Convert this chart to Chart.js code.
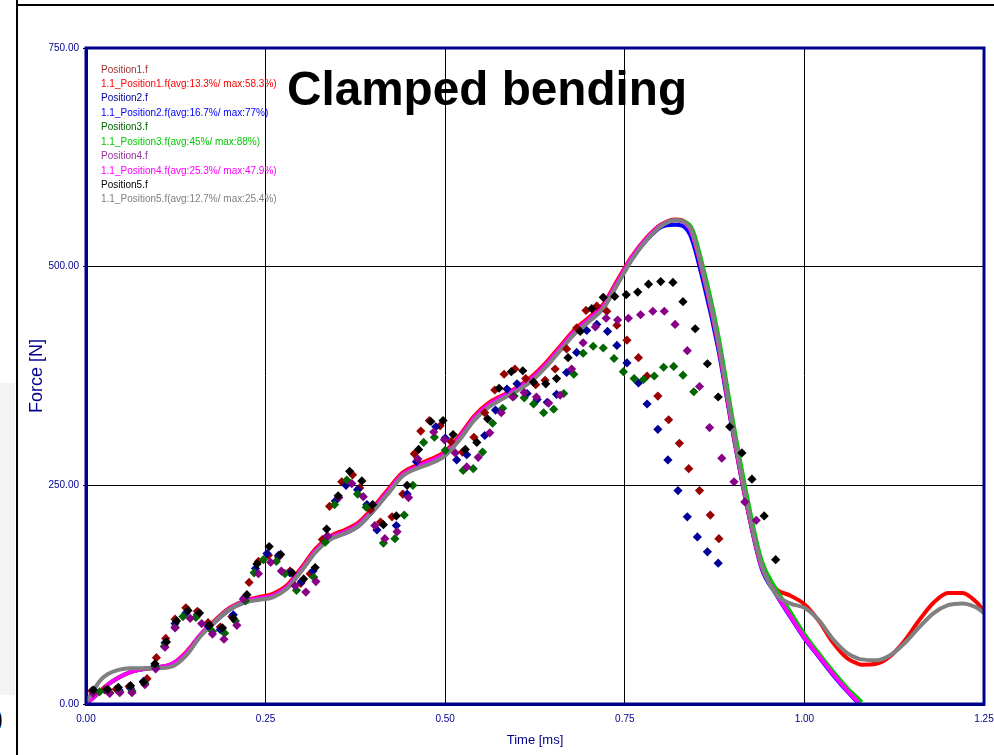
<!DOCTYPE html>
<html>
<head>
<meta charset="utf-8">
<script src="https://cdn.jsdelivr.net/npm/chart.js@4.4.0/dist/chart.umd.min.js"></script>
<style>
html,body{margin:0;padding:0;background:#fff;width:994px;height:755px;overflow:hidden;position:relative;font-family:"Liberation Sans",Arial,sans-serif}
#c{position:absolute;left:0;top:0}
#frameTop{position:absolute;left:17px;top:4px;width:977px;height:2px;background:#000}
#frameLeft{position:absolute;left:16px;top:0;width:2px;height:755px;background:#000}
#band{position:absolute;left:0;top:383px;width:15px;height:312px;background:#f3f3f3}
#zero{position:absolute;left:-16px;top:700px;font:bold 34px "Liberation Sans",Arial,sans-serif;color:#000;line-height:40px}
#title{position:absolute;left:287px;top:65px;font:bold 47.7px "Liberation Sans",Arial,sans-serif;line-height:47px;color:#000;white-space:nowrap}
#legend{position:absolute;left:101px;top:62.5px;font:10px "Liberation Sans",Arial,sans-serif;line-height:14.44px;white-space:nowrap}
</style>
</head>
<body>
<div id="band"></div>
<div id="zero">0</div>
<canvas id="c" width="994" height="755"></canvas>
<div id="frameTop"></div>
<div id="frameLeft"></div>
<div id="title"></div>
<div id="legend"></div>
<script>
// ---------- tick labels ----------
const xTickLabels = ['0.00', '0.25', '0.50', '0.75', '1.00', '1.25'];
const yTickLabels = ['0.00', '250.00', '500.00', '750.00'];
const chartTitle = 'Clamped bending';
const xTitle = 'Time [ms]';
const yTitle = 'Force [N]';

// ---------- legend entries ----------
const legendLabels = [
  'Position1.f', '1.1_Position1.f(avg:13.3%/ max:58.3%)',
  'Position2.f', '1.1_Position2.f(avg:16.7%/ max:77%)',
  'Position3.f', '1.1_Position3.f(avg:45%/ max:88%)',
  'Position4.f', '1.1_Position4.f(avg:25.3%/ max:47.9%)',
  'Position5.f', '1.1_Position5.f(avg:12.7%/ max:25.4%)'
];

// ---------- measured (diamonds): [time ms, force N] ----------
const pos1Meas = [[0.008,15],[0.026,16],[0.042,17],[0.060,20],[0.085,29],[0.098,53],[0.111,75],[0.124,97],[0.139,110],[0.155,106],[0.170,93],[0.187,88],[0.203,100],[0.227,139],[0.240,163],[0.254,170],[0.268,168],[0.284,152],[0.299,138],[0.312,149],[0.329,188],[0.339,226],[0.356,254],[0.371,262],[0.381,247],[0.396,222],[0.410,208],[0.426,214],[0.441,240],[0.457,286],[0.466,312],[0.478,324],[0.493,318],[0.508,300],[0.524,288],[0.540,305],[0.555,333],[0.569,359],[0.582,377],[0.597,383],[0.612,372],[0.626,365],[0.639,370],[0.653,383],[0.669,406],[0.683,430],[0.696,450],[0.711,455],[0.725,449],[0.739,433],[0.753,416],[0.769,396],[0.781,375],[0.796,352],[0.811,325],[0.826,298],[0.839,269],[0.854,244],[0.869,216],[0.881,189]];
const pos2Meas = [[0.012,15],[0.030,15],[0.046,16],[0.062,18],[0.080,26],[0.096,44],[0.110,70],[0.124,92],[0.139,104],[0.155,102],[0.170,89],[0.187,85],[0.205,102],[0.221,122],[0.236,155],[0.252,172],[0.268,170],[0.284,150],[0.300,140],[0.316,152],[0.336,192],[0.347,232],[0.362,250],[0.378,245],[0.391,228],[0.405,199],[0.432,204],[0.447,240],[0.460,277],[0.487,317],[0.500,304],[0.516,279],[0.530,285],[0.555,307],[0.570,336],[0.586,360],[0.600,366],[0.614,355],[0.628,348],[0.642,345],[0.655,354],[0.669,379],[0.683,402],[0.697,427],[0.711,434],[0.726,426],[0.739,410],[0.753,390],[0.769,367],[0.781,343],[0.796,314],[0.810,279],[0.824,244],[0.837,214],[0.851,191],[0.865,174],[0.880,161]];
const pos3Meas = [[0.019,14],[0.033,13],[0.047,14],[0.064,15],[0.082,24],[0.097,42],[0.109,66],[0.124,88],[0.135,100],[0.153,99],[0.176,83],[0.193,81],[0.208,95],[0.222,118],[0.234,150],[0.247,165],[0.265,163],[0.277,149],[0.293,130],[0.317,145],[0.333,185],[0.346,228],[0.363,256],[0.378,240],[0.390,225],[0.414,184],[0.430,189],[0.443,216],[0.455,250],[0.470,299],[0.485,305],[0.500,290],[0.525,267],[0.539,269],[0.552,288],[0.566,321],[0.580,338],[0.596,352],[0.610,350],[0.623,343],[0.637,333],[0.651,337],[0.665,355],[0.679,377],[0.692,401],[0.706,409],[0.720,407],[0.735,395],[0.748,380],[0.763,372],[0.776,371],[0.791,375],[0.804,385],[0.818,386],[0.831,376],[0.846,357]];
const pos4Meas = [[0.010,12],[0.033,12],[0.047,13],[0.064,13],[0.082,22],[0.097,40],[0.110,65],[0.124,87],[0.145,98],[0.161,92],[0.176,80],[0.192,74],[0.210,90],[0.219,120],[0.240,149],[0.257,162],[0.272,152],[0.291,135],[0.306,128],[0.320,140],[0.336,192],[0.352,236],[0.370,252],[0.386,237],[0.402,204],[0.416,189],[0.433,197],[0.449,236],[0.462,280],[0.484,311],[0.499,302],[0.514,287],[0.530,271],[0.546,282],[0.562,310],[0.578,333],[0.594,351],[0.610,356],[0.627,351],[0.644,344],[0.660,353],[0.676,383],[0.692,413],[0.709,431],[0.724,441],[0.740,439],[0.755,441],[0.772,445],[0.789,449],[0.805,449],[0.820,434],[0.837,404],[0.854,363],[0.868,316],[0.885,281],[0.902,254],[0.917,231],[0.933,210]];
const pos5Meas = [[0.010,16],[0.030,17],[0.045,19],[0.062,21],[0.080,25],[0.096,46],[0.112,71],[0.126,95],[0.142,107],[0.158,104],[0.172,90],[0.190,87],[0.205,98],[0.224,125],[0.238,160],[0.255,180],[0.271,171],[0.287,150],[0.303,143],[0.319,156],[0.335,200],[0.351,238],[0.367,266],[0.384,255],[0.399,228],[0.414,205],[0.432,215],[0.447,250],[0.463,291],[0.480,323],[0.497,324],[0.511,308],[0.528,291],[0.544,299],[0.559,326],[0.575,361],[0.592,380],[0.608,381],[0.623,368],[0.640,366],[0.655,372],[0.671,396],[0.688,426],[0.704,452],[0.720,465],[0.736,466],[0.752,468],[0.768,471],[0.783,480],[0.800,483],[0.817,482],[0.831,460],[0.848,429],[0.865,389],[0.880,351],[0.896,317],[0.913,287],[0.927,257],[0.944,215],[0.960,165]];

// ---------- simulated curves ----------
const simTime = [0,0.01,0.02,0.03,0.045,0.06,0.08,0.10,0.12,0.14,0.16,0.18,0.20,0.22,0.24,0.26,0.28,0.30,0.32,0.34,0.36,0.38,0.40,0.42,0.44,0.46,0.48,0.50,0.52,0.54,0.56,0.58,0.60,0.62,0.64,0.66,0.68,0.70,0.72,0.74,0.76,0.78,0.80,0.82,0.84,0.86,0.88,0.90,0.92,0.94,0.96,0.98,1.00,1.02,1.04,1.06,1.075,1.08,1.10,1.12,1.14,1.16,1.18,1.20,1.22,1.24,1.25];
const sim1 = [0,7,15,22,30,36,40,42,46,60,80,96,110,118,122,126,136,156,178,192,199,208,225,245,264,273,280,289,307,329,344,353,362,374,390,409,428,442,457,485,512,533,548,554,545,487,411,314,227,158,132,124,114,95,70,52,46,45,46,55,73,96,116,127,127,116,106];
const sim2 = [0,7,15,22,30,36,40,42,45,58,79,94,108,116,120,123,133,153,175,189,195,204,221,241,261,270,276,285,303,325,340,350,359,370,386,405,424,438,453,481,509,530,545,548,538,480,406,312,226,156,126,100,75,54,33,14,1,null,null,null,null,null,null,null,null,null,null];
const sim3 = [0,7,15,22,30,36,40,42,45,58,79,95,109,117,120,123,133,153,175,189,196,205,222,241,261,270,276,285,303,325,340,350,359,370,386,405,424,438,453,481,509,531,547,553,548,496,422,326,238,165,132,106,80,58,37,18,6,2,null,null,null,null,null,null,null,null,null];
const sim4 = [0,7,15,22,30,36,40,42,46,59,80,95,109,117,121,124,134,154,176,190,197,206,223,243,262,271,278,287,305,327,342,352,361,372,388,407,426,440,455,483,511,532,547,553,544,488,412,315,228,158,127,101,76,55,34,15,2,null,null,null,null,null,null,null,null,null,null];
const sim5 = [2,15,27,34,39,41,41,41,43,56,78,94,108,116,119,122,132,152,174,188,195,204,221,240,260,269,275,284,302,324,339,349,358,369,385,404,423,437,452,480,508,530,546,553,546,490,415,318,230,160,126,115,110,96,74,58,52,51,50,56,70,88,104,113,115,110,104];

// ---------- colours ----------
const NAVY = '#00008B';
const measColors = ['#990000', '#000099', '#006600', '#880088', '#000000'];
const simColors = ['#FF0000', '#0000FF', '#00C800', '#FF00FF', '#808080'];
const legendColors = ['#993333', '#FF0000', '#000099', '#0000FF', '#006600', '#00C800', '#993399', '#FF00FF', '#000000', '#808080'];

document.getElementById('title').textContent = chartTitle;
const leg = document.getElementById('legend');
legendLabels.forEach((t, i) => {
  const d = document.createElement('div');
  d.textContent = t;
  d.style.color = legendColors[i];
  leg.appendChild(d);
});

const meas = [pos1Meas, pos2Meas, pos3Meas, pos4Meas, pos5Meas];
const sims = [sim1, sim2, sim3, sim4, sim5];
const measOrder = [-1, -2, -3, -4, -5];
const simOrder = [4, 5, 3, 2, 1];

const datasets = [];
sims.forEach((arr, i) => {
  datasets.push({
    type: 'line',
    label: legendLabels[2 * i + 1],
    data: simTime.map((t, k) => ({x: t, y: arr[k]})),
    borderColor: simColors[i],
    borderWidth: 4,
    pointRadius: 0,
    fill: false,
    cubicInterpolationMode: 'monotone',
    spanGaps: false,
    order: simOrder[i]
  });
});
meas.forEach((arr, i) => {
  datasets.push({
    type: 'scatter',
    label: legendLabels[2 * i],
    data: arr.map(p => ({x: p[0], y: p[1]})),
    pointStyle: 'rectRot',
    pointRadius: 4.6,
    pointBackgroundColor: measColors[i],
    pointBorderWidth: 0,
    showLine: false,
    order: measOrder[i]
  });
});

const framePlugin = {
  id: 'frame',
  afterDatasetsDraw(chart) {
    const {ctx, chartArea: a} = chart;
    ctx.save();
    ctx.strokeStyle = NAVY;
    ctx.lineWidth = 3;
    ctx.strokeRect(a.left, a.top, a.right - a.left, a.bottom - a.top);
    ctx.restore();
  }
};

new Chart(document.getElementById('c'), {
  data: {datasets},
  plugins: [framePlugin],
  options: {
    responsive: false,
    animation: false,
    layout: {padding: {left: 26, top: 48, right: 0, bottom: 7}},
    plugins: {legend: {display: false}, tooltip: {enabled: false}, title: {display: false}},
    scales: {
      x: {
        type: 'linear', min: 0, max: 1.25,
        afterBuildTicks: s => { s.ticks = xTickLabels.map(v => ({value: parseFloat(v)})); },
        ticks: {
          callback: (v, i) => xTickLabels[i],
          color: NAVY, font: {size: 10, family: '"Liberation Sans", Arial, sans-serif'},
          padding: 9, maxRotation: 0, autoSkip: false
        },
        grid: {color: '#000', lineWidth: 1, drawTicks: false},
        border: {color: NAVY, width: 3},
        title: {display: true, text: xTitle, color: NAVY, font: {size: 13, family: '"Liberation Sans", Arial, sans-serif'}, padding: {top: 0, bottom: 0}},
        afterFit: s => { s.height = 755 - 7 - 704; s.paddingLeft = 0; s.paddingRight = 10; }
      },
      y: {
        type: 'linear', min: 0, max: 750,
        afterBuildTicks: s => { s.ticks = yTickLabels.map(v => ({value: parseFloat(v)})); },
        ticks: {
          callback: (v, i) => yTickLabels[i],
          color: NAVY, font: {size: 10, family: '"Liberation Sans", Arial, sans-serif'},
          padding: 4, autoSkip: false
        },
        grid: {color: '#000', lineWidth: 1, drawTicks: true, tickLength: 3},
        border: {color: NAVY, width: 3},
        title: {display: true, text: yTitle, color: NAVY, font: {size: 18, family: '"Liberation Sans", Arial, sans-serif'}, padding: {top: 0, bottom: 0}},
        afterFit: s => { s.width = 86 - 26; }
      }
    }
  }
});
</script>
</body>
</html>
